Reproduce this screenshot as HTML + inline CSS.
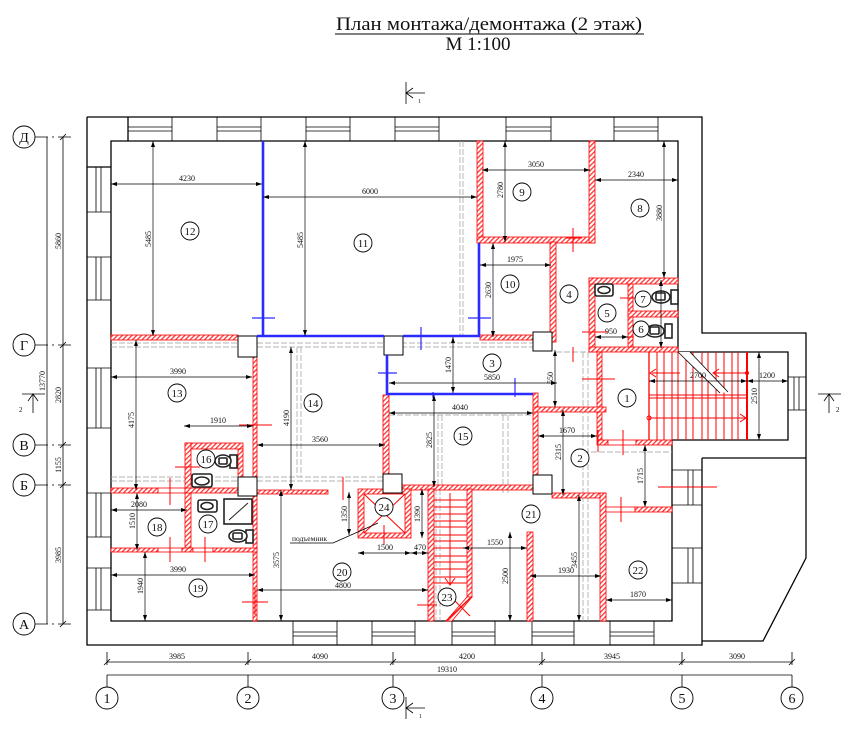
<!DOCTYPE html>
<html><head><meta charset="utf-8"><style>
html,body{margin:0;padding:0;background:#fff;}
svg{display:block;}
text{font-family:"Liberation Serif",serif;fill:#111;}
.k{stroke:#000;stroke-width:1.3;fill:none}
.t{stroke:#000;stroke-width:0.8;fill:none}
.d{stroke:#000;stroke-width:0.7;fill:none;marker-start:url(#a);marker-end:url(#a)}
.g{stroke:#9a9a9a;stroke-width:0.7;stroke-dasharray:6 2;fill:none}
.b{stroke:#2b2bff;stroke-width:2.6;fill:none}
.bt{stroke:#2b2bff;stroke-width:1.2;fill:none}
.r{fill:url(#h);stroke:#f00;stroke-width:0.8}
.rp{fill:#fff;stroke:#f00;stroke-width:0.8}
.rl{stroke:#f00;stroke-width:1;fill:none}
.c{fill:#fff;stroke:#000;stroke-width:0.9}
.col{fill:#fff;stroke:#000;stroke-width:1}
.fx{fill:#fff;stroke:#222;stroke-width:1.6}
.dt{font-size:8px}
.rn{font-size:11px}
.ax{font-size:14px}
</style></head><body>
<svg width="847" height="734" viewBox="0 0 847 734" xmlns="http://www.w3.org/2000/svg">
<defs>
<pattern id="h" width="3.4" height="3.4" patternUnits="userSpaceOnUse" patternTransform="rotate(45)">
<rect width="3.4" height="3.4" fill="#fff"/><rect width="1.3" height="3.4" fill="#f33"/>
</pattern>
<marker id="a" viewBox="0 0 6 4" refX="6" refY="2" markerWidth="6" markerHeight="4" markerUnits="userSpaceOnUse" orient="auto-start-reverse"><path d="M0,0L6,2L0,4z" fill="#000"/></marker>
</defs>
<rect width="847" height="734" fill="#fff"/>

<!-- Title -->
<text x="489" y="30" font-size="19" text-anchor="middle" textLength="306" lengthAdjust="spacingAndGlyphs">План монтажа/демонтажа (2 этаж)</text>
<line x1="335" y1="34" x2="644" y2="34" stroke="#000" stroke-width="1"/>
<text x="478" y="50" font-size="19" text-anchor="middle">М 1:100</text>

<!-- section marks -->
<line class="t" x1="406" y1="82" x2="406" y2="104" stroke-width="1.2"/>
<path class="t" d="M406,93H425M413,88L406,93L413,98"/>
<text x="418" y="103" font-size="6">1</text>
<line class="t" x1="406" y1="697" x2="406" y2="719" stroke-width="1.2"/>
<path class="t" d="M406,708H425M413,703L406,708L413,713"/>
<text x="419" y="718" font-size="6">1</text>
<line class="t" x1="22" y1="394" x2="45" y2="394" stroke-width="1.2"/>
<path class="t" d="M33,413V394M28,401L33,394L38,401"/>
<text x="19" y="412" font-size="7">2</text>
<line class="t" x1="818" y1="394" x2="841" y2="394" stroke-width="1.2"/>
<path class="t" d="M829,413V394M824,401L829,394L834,401"/>
<text x="836" y="412" font-size="7">2</text>

<!-- Outer building -->
<path class="k" d="M87,117H702V333H806V558L763,641H702"/>
<path class="k" d="M87,117V645H702V458"/>
<line class="k" x1="702" y1="458" x2="806" y2="458"/>
<path class="k" d="M111,141V621H672V440H788V352H678V141Z"/>
<path class="k" d="M87,167H111"/>
<path class="k" d="M128,117V141"/>

<!-- top windows -->
<g class="t" stroke-width="1.1">
<path d="M128,117V141M172,117V141M128,127H172M128,131H172"/>
<path d="M217,117V141M261,117V141M217,127H261M217,131H261"/>
<path d="M306,117V141M350,117V141M306,127H350M306,131H350"/>
<path d="M395,117V141M439,117V141M395,127H439M395,131H439"/>
<path d="M506,117V141M551,117V141M506,127H551M506,131H551"/>
<path d="M614,117V141M658,117V141M614,127H658M614,131H658"/>
</g>
<!-- left windows -->
<g class="t" stroke-width="1.1">
<path d="M87,212H111M96,167V212M101,167V212"/>
<path d="M87,257H111M87,300H111M96,257V300M101,257V300"/>
<path d="M87,368H111M87,428H111M96,368V428M101,368V428"/>
<path d="M87,493H111M87,537H111M96,493V537M101,493V537"/>
<path d="M87,568H111M87,610H111M96,568V610M101,568V610"/>
</g>
<!-- bottom windows -->
<g class="t" stroke-width="1.1">
<path d="M293,621V645M337,621V645M293,632H337M293,636H337"/>
<path d="M372,621V645M415,621V645M372,632H415M372,636H415"/>
<path d="M452,621V645M495,621V645M452,632H495M452,636H495"/>
<path d="M532,621V645M574,621V645M532,632H574M532,636H574"/>
<path d="M610,621V645M654,621V645M610,632H654M610,636H654"/>
</g>
<!-- right windows -->
<g class="t" stroke-width="1.1">
<path d="M672,470H702M672,505H702M688,470V505M693,470V505"/>
<path d="M672,548H702M672,583H702M688,548V583M693,548V583"/>
<path d="M788,377H806M788,410H806M794,377V410M799,377V410"/>
</g>

<!-- Gray dashed old structure -->
<g class="g">
<path d="M111,343H238M111,347H238M257,343H533M257,347H533"/>
<path d="M111,477H238M111,481H238M257,477H383M257,481H383"/>
<path d="M297,347V477M301,347V477"/>
<path d="M460,141V335M463,141V335"/>
<path d="M436,489V621M440,489V621"/>
<path d="M583,352V621M588,352V621"/>
<path d="M389,415H533M438,415V487M442,415V487M503,415V495M508,415V495"/>
<path d="M583,452H672M556,352H597"/>
</g>

<!-- Red hatched walls -->
<g>
<rect class="r" x="111" y="335" width="127" height="5"/>
<rect class="r" x="477" y="141" width="6" height="101"/>
<rect class="r" x="477" y="237" width="118" height="6"/>
<rect class="r" x="589" y="141" width="6" height="102"/>
<rect class="r" x="550" y="242" width="6" height="100"/>
<rect class="r" x="480" y="335" width="53" height="5"/>
<rect class="r" x="589" y="278" width="6" height="74"/>
<rect class="r" x="589" y="278" width="89" height="6"/>
<rect class="r" x="628" y="284" width="5" height="63"/>
<rect class="r" x="628" y="311" width="50" height="6"/>
<rect class="r" x="589" y="347" width="89" height="5"/>
<rect class="r" x="597" y="352" width="5" height="88"/>
<rect class="r" x="597" y="440" width="11" height="5"/>
<rect class="rp" x="608" y="440" width="28" height="5"/>
<rect class="r" x="636" y="440" width="36" height="5"/>
<rect class="r" x="533" y="393" width="5" height="82"/>
<rect class="r" x="533" y="407" width="73" height="5"/>
<rect class="r" x="552" y="493" width="54" height="5"/>
<rect class="r" x="600" y="493" width="6" height="128"/>
<rect class="rp" x="606" y="507" width="29" height="5"/>
<rect class="r" x="635" y="507" width="37" height="5"/>
<rect class="r" x="253" y="357" width="4" height="264"/>
<rect class="r" x="185" y="443" width="58" height="6"/>
<rect class="r" x="185" y="443" width="6" height="105"/>
<rect class="r" x="238" y="449" width="5" height="28"/>
<rect class="r" x="111" y="488" width="47" height="5"/>
<rect class="rp" x="158" y="488" width="27" height="5"/>
<rect class="r" x="185" y="488" width="53" height="5"/>
<rect class="r" x="111" y="548" width="47" height="4"/>
<rect class="rp" x="158" y="548" width="24" height="4"/>
<rect class="r" x="182" y="548" width="11" height="4"/>
<rect class="rp" x="193" y="548" width="20" height="4"/>
<rect class="r" x="213" y="548" width="44" height="4"/>
<rect class="r" x="257" y="490" width="71" height="4"/>
<rect class="r" x="402" y="485" width="131" height="5"/>
<rect class="r" x="383" y="395" width="6" height="80"/>
<rect class="r" x="428" y="489" width="6" height="132"/>
<rect class="r" x="467" y="489" width="5" height="108"/>
<polygon class="r" points="467,597 472,597 452,621 446,621"/>
<rect class="r" x="358" y="489" width="53" height="49"/>
<rect x="364" y="494" width="41" height="39" fill="#fff" stroke="#f00" stroke-width="0.8"/>
<rect class="r" x="527" y="532" width="6" height="89"/>
</g>

<!-- columns -->
<rect class="col" x="238" y="336" width="19" height="21"/>
<rect class="col" x="384" y="336" width="19" height="19"/>
<rect class="col" x="533" y="332" width="19" height="19"/>
<rect class="col" x="533" y="475" width="19" height="19"/>
<rect class="col" x="238" y="477" width="19" height="19"/>
<rect class="col" x="383" y="474" width="19" height="19"/>

<!-- Blue (demolition) lines -->
<path class="b" d="M263,141V336"/>
<path class="b" d="M257,336H384M403,336H480"/>
<path class="b" d="M479,243V337"/>
<path class="b" d="M387,355V394H533"/>
<g class="bt">
<path d="M252,318H275M468,318H491M421,327V350M378,373H397M515,378V397M433,392V398"/>
</g>

<!-- Right stair -->
<g class="rl">
<path d="M657,352V440M664,352V440M672,352V440M678,352V440M686,352V440M693,352V440M702,352V440M708,352V440M716,352V440M724,352V440M732,352V440M738,352V440"/>
<path d="M649,395H747M649,398H747"/>
</g>
<line x1="649" y1="352" x2="649" y2="440" stroke="#f00" stroke-width="1.3"/>
<line x1="747" y1="352" x2="747" y2="440" stroke="#f00" stroke-width="2"/>
<polygon points="678,352 690,352 728,392 720,393" fill="#fff"/>
<path class="t" d="M678,352L720,393M690,352L728,392"/>
<g class="rl">
<path d="M680,373H652M656,369L650,373L656,377"/>
<path d="M747,373H714M719,369L713,373L719,377"/>
<path d="M649,418H747M740,414L746,418L740,422"/>
</g>
<circle cx="747" cy="373" r="2" fill="#f00"/>
<circle cx="649" cy="418" r="2" fill="none" stroke="#f00"/>

<!-- Stair 23 -->
<g class="rl">
<path d="M434,500H467M434,507H467M434,514H467M434,521H467M434,527H467M434,535H467M434,541H467M434,548H467M434,556H467M434,562H467M434,569H467M434,577H467M434,583H467"/>
<path d="M450,493V585M445,578L450,585L455,578"/>
<path d="M447,620L470,598M455,601L470,616"/>
</g>

<!-- Lift -->
<g class="rl">
<path d="M364,494L405,533M405,494L364,533M384,525V545"/>
</g>
<path class="t" d="M290,543H333L378,523"/>
<text x="292" y="541" font-size="7.5">подъемник</text>

<!-- red markers -->
<g class="rl">
<path d="M573,228V252M566,238H582"/>
<path d="M620,298H642M582,332H608M621,337H634"/>
<path d="M573,347V362M582,379H615M623,430V455M621,497V522M658,487H717"/>
<path d="M170,478V505M175,467H200M170,537V562M205,537V562M239,425H272M242,602H268M255,588V615M343,477V500M417,605H437M598,430V452"/>
</g>

<!-- fixtures -->
<g class="fx">
<rect x="595" y="284" width="18" height="12" rx="2"/><ellipse cx="604" cy="290" rx="6" ry="3.5"/>
<rect x="671" y="290" width="7" height="14"/><ellipse cx="661" cy="297" rx="9" ry="6"/><rect x="656" y="293" width="9" height="7" rx="1"/>
<rect x="665" y="324" width="7" height="14"/><ellipse cx="655" cy="331" rx="9" ry="6"/><rect x="650" y="327" width="9" height="7" rx="1"/>
<rect x="230" y="455" width="7" height="13"/><ellipse cx="223" cy="461" rx="8" ry="6"/><rect x="219" y="458" width="8" height="6" rx="1"/>
<rect x="192" y="474" width="20" height="13" rx="2"/><ellipse cx="202" cy="481" rx="7" ry="4"/>
<rect x="198" y="500" width="19" height="12" rx="2"/><ellipse cx="207" cy="506" rx="6" ry="3.5"/>
<rect x="224" y="499" width="28" height="25"/>
<rect x="246" y="530" width="7" height="13"/><ellipse cx="238" cy="536" rx="9" ry="6"/><rect x="233" y="533" width="9" height="6" rx="1"/>
</g>
<line x1="229" y1="520" x2="248" y2="503" stroke="#222" stroke-width="1"/>

<!-- Horizontal dimensions -->
<g class="d">
<line x1="111" y1="184" x2="262" y2="184"/>
<line x1="263" y1="197" x2="477" y2="197"/>
<line x1="482" y1="170" x2="590" y2="170"/>
<line x1="595" y1="180" x2="678" y2="180"/>
<line x1="480" y1="265" x2="551" y2="265"/>
<line x1="595" y1="337" x2="628" y2="337"/>
<line x1="389" y1="383" x2="557" y2="383"/>
<line x1="649" y1="381" x2="747" y2="381"/>
<line x1="747" y1="381" x2="788" y2="381"/>
<line x1="538" y1="436" x2="597" y2="436"/>
<line x1="389" y1="413" x2="533" y2="413"/>
<line x1="463" y1="548" x2="527" y2="548"/>
<line x1="530" y1="576" x2="601" y2="576"/>
<line x1="606" y1="600" x2="672" y2="600"/>
<line x1="257" y1="445" x2="385" y2="445"/>
<line x1="111" y1="377" x2="252" y2="377"/>
<line x1="184" y1="426" x2="253" y2="426"/>
<line x1="111" y1="510" x2="187" y2="510"/>
<line x1="111" y1="575" x2="255" y2="575"/>
<line x1="257" y1="590" x2="428" y2="590"/>
<line x1="358" y1="553" x2="411" y2="553"/>
<line x1="411" y1="553" x2="428" y2="553"/>
</g>
<g class="dt" text-anchor="middle">
<text x="187" y="181">4230</text>
<text x="370" y="194">6000</text>
<text x="536" y="167">3050</text>
<text x="636" y="177">2340</text>
<text x="515" y="262">1975</text>
<text x="611" y="334">950</text>
<text x="492" y="380">5850</text>
<text x="698" y="378">2700</text>
<text x="767" y="378">1200</text>
<text x="567" y="433">1670</text>
<text x="460" y="410">4040</text>
<text x="495" y="545">1550</text>
<text x="566" y="573">1930</text>
<text x="638" y="597">1870</text>
<text x="320" y="442">3560</text>
<text x="178" y="374">3990</text>
<text x="218" y="423">1910</text>
<text x="139" y="507">2080</text>
<text x="178" y="572">3990</text>
<text x="343" y="588">4800</text>
<text x="385" y="550">1500</text>
<text x="420" y="550">470</text>
</g>

<!-- Vertical dimensions -->
<g class="d">
<line x1="153" y1="141" x2="153" y2="336"/>
<line x1="305" y1="141" x2="305" y2="336"/>
<line x1="505" y1="141" x2="505" y2="242"/>
<line x1="664" y1="141" x2="664" y2="278"/>
<line x1="493" y1="243" x2="493" y2="337"/>
<line x1="453" y1="337" x2="453" y2="393"/>
<line x1="555" y1="350" x2="555" y2="407"/>
<line x1="759" y1="352" x2="759" y2="440"/>
<line x1="563" y1="410" x2="563" y2="495"/>
<line x1="645" y1="445" x2="645" y2="507"/>
<line x1="434" y1="395" x2="434" y2="487"/>
<line x1="510" y1="532" x2="510" y2="621"/>
<line x1="579" y1="495" x2="579" y2="621"/>
<line x1="291" y1="347" x2="291" y2="490"/>
<line x1="136" y1="340" x2="136" y2="490"/>
<line x1="137" y1="493" x2="137" y2="550"/>
<line x1="145" y1="552" x2="145" y2="621"/>
<line x1="281" y1="490" x2="281" y2="621"/>
<line x1="349" y1="492" x2="349" y2="535"/>
<line x1="422" y1="489" x2="422" y2="538"/>
<line x1="661" y1="280" x2="661" y2="348"/>
</g>
<g class="dt" text-anchor="middle">
<text transform="translate(151,239) rotate(-90)">5485</text>
<text transform="translate(303,240) rotate(-90)">5485</text>
<text transform="translate(503,190) rotate(-90)">2780</text>
<text transform="translate(662,213) rotate(-90)">3880</text>
<text transform="translate(491,290) rotate(-90)">2630</text>
<text transform="translate(451,365) rotate(-90)">1470</text>
<text transform="translate(553,378) rotate(-90)">550</text>
<text transform="translate(757,396) rotate(-90)">2510</text>
<text transform="translate(561,452) rotate(-90)">2315</text>
<text transform="translate(643,476) rotate(-90)">1715</text>
<text transform="translate(432,440) rotate(-90)">2825</text>
<text transform="translate(508,576) rotate(-90)">2500</text>
<text transform="translate(577,560) rotate(-90)">3455</text>
<text transform="translate(289,418) rotate(-90)">4190</text>
<text transform="translate(134,420) rotate(-90)">4175</text>
<text transform="translate(135,521) rotate(-90)">1510</text>
<text transform="translate(143,586) rotate(-90)">1940</text>
<text transform="translate(279,560) rotate(-90)">3575</text>
<text transform="translate(347,514) rotate(-90)">1350</text>
<text transform="translate(420,514) rotate(-90)">1390</text>
</g>

<!-- Room labels -->
<g>
<circle class="c" cx="627" cy="398" r="9"/><text class="rn" x="627" y="402" text-anchor="middle">1</text>
<circle class="c" cx="580" cy="458" r="9"/><text class="rn" x="580" y="462" text-anchor="middle">2</text>
<circle class="c" cx="492" cy="363" r="9"/><text class="rn" x="492" y="367" text-anchor="middle">3</text>
<circle class="c" cx="569" cy="294" r="9"/><text class="rn" x="569" y="298" text-anchor="middle">4</text>
<circle class="c" cx="607" cy="313" r="9"/><text class="rn" x="607" y="317" text-anchor="middle">5</text>
<circle class="c" cx="641" cy="329" r="8"/><text class="rn" x="641" y="333" text-anchor="middle">6</text>
<circle class="c" cx="643" cy="299" r="8"/><text class="rn" x="643" y="303" text-anchor="middle">7</text>
<circle class="c" cx="640" cy="208" r="9"/><text class="rn" x="640" y="212" text-anchor="middle">8</text>
<circle class="c" cx="522" cy="192" r="9"/><text class="rn" x="522" y="196" text-anchor="middle">9</text>
<circle class="c" cx="510" cy="284" r="9"/><text class="rn" x="510" y="288" text-anchor="middle">10</text>
<circle class="c" cx="363" cy="243" r="9"/><text class="rn" x="363" y="247" text-anchor="middle">11</text>
<circle class="c" cx="190" cy="231" r="9"/><text class="rn" x="190" y="235" text-anchor="middle">12</text>
<circle class="c" cx="177" cy="393" r="9"/><text class="rn" x="177" y="397" text-anchor="middle">13</text>
<circle class="c" cx="313" cy="403" r="9"/><text class="rn" x="313" y="407" text-anchor="middle">14</text>
<circle class="c" cx="463" cy="436" r="9"/><text class="rn" x="463" y="440" text-anchor="middle">15</text>
<circle class="c" cx="206" cy="459" r="9"/><text class="rn" x="206" y="463" text-anchor="middle">16</text>
<circle class="c" cx="208" cy="524" r="9"/><text class="rn" x="208" y="528" text-anchor="middle">17</text>
<circle class="c" cx="157" cy="527" r="9"/><text class="rn" x="157" y="531" text-anchor="middle">18</text>
<circle class="c" cx="198" cy="588" r="9"/><text class="rn" x="198" y="592" text-anchor="middle">19</text>
<circle class="c" cx="342" cy="572" r="9"/><text class="rn" x="342" y="576" text-anchor="middle">20</text>
<circle class="c" cx="531" cy="514" r="9"/><text class="rn" x="531" y="518" text-anchor="middle">21</text>
<circle class="c" cx="638" cy="570" r="9"/><text class="rn" x="638" y="574" text-anchor="middle">22</text>
<circle class="c" cx="447" cy="597" r="9"/><text class="rn" x="447" y="601" text-anchor="middle">23</text>
<circle class="c" cx="384" cy="507" r="9"/><text class="rn" x="384" y="511" text-anchor="middle">24</text>
</g>

<!-- Left axes -->
<g class="t">
<line x1="47" y1="137" x2="47" y2="624"/>
<line x1="63" y1="137" x2="63" y2="624"/>
<path d="M35,137H48M35,345H48M35,445H48M35,485H48M35,624H48"/>
<path d="M58,137H71M58,345H71M58,445H71M58,485H71M58,624H71"/>
<path d="M60,140L66,134M60,348L66,342M60,448L66,442M60,488L66,482M60,627L66,621"/>
</g>
<g fill="#000">
<circle cx="53" cy="137" r="0.7"/><circle cx="53" cy="345" r="0.7"/><circle cx="53" cy="445" r="0.7"/><circle cx="53" cy="485" r="0.7"/><circle cx="53" cy="624" r="0.7"/>
</g>
<g class="dt" text-anchor="middle">
<text transform="translate(61,241) rotate(-90)">5860</text>
<text transform="translate(61,395) rotate(-90)">2820</text>
<text transform="translate(61,465) rotate(-90)">1155</text>
<text transform="translate(61,555) rotate(-90)">3985</text>
<text transform="translate(45,381) rotate(-90)">13770</text>
</g>
<g>
<circle class="c" cx="24" cy="137" r="11"/><text class="ax" x="24" y="142" text-anchor="middle">Д</text>
<circle class="c" cx="24" cy="345" r="11"/><text class="ax" x="24" y="350" text-anchor="middle">Г</text>
<circle class="c" cx="24" cy="445" r="11"/><text class="ax" x="24" y="450" text-anchor="middle">В</text>
<circle class="c" cx="24" cy="485" r="11"/><text class="ax" x="24" y="490" text-anchor="middle">Б</text>
<circle class="c" cx="24" cy="624" r="11"/><text class="ax" x="24" y="629" text-anchor="middle">А</text>
</g>

<!-- Bottom axes -->
<g class="t">
<line x1="107" y1="662" x2="792" y2="662"/>
<line x1="107" y1="675" x2="792" y2="675"/>
<path d="M107,652V665M248,652V665M393,652V665M542,652V665M682,652V665M792,652V665"/>
<path d="M104,665L110,659M245,665L251,659M390,665L396,659M539,665L545,659M679,665L685,659M789,665L795,659"/>
<path d="M107,675V687M248,675V687M393,675V687M542,675V687M682,675V687M792,675V687"/>
</g>
<g class="dt" text-anchor="middle">
<text x="177" y="659">3985</text>
<text x="320" y="659">4090</text>
<text x="467" y="659">4200</text>
<text x="612" y="659">3945</text>
<text x="737" y="659">3090</text>
<text x="447" y="672">19310</text>
</g>
<g>
<circle class="c" cx="107" cy="698" r="11"/><text class="ax" x="107" y="703" text-anchor="middle">1</text>
<circle class="c" cx="248" cy="698" r="11"/><text class="ax" x="248" y="703" text-anchor="middle">2</text>
<circle class="c" cx="393" cy="698" r="11"/><text class="ax" x="393" y="703" text-anchor="middle">3</text>
<circle class="c" cx="542" cy="698" r="11"/><text class="ax" x="542" y="703" text-anchor="middle">4</text>
<circle class="c" cx="682" cy="698" r="11"/><text class="ax" x="682" y="703" text-anchor="middle">5</text>
<circle class="c" cx="792" cy="698" r="11"/><text class="ax" x="792" y="703" text-anchor="middle">6</text>
</g>
</svg>
</body></html>
